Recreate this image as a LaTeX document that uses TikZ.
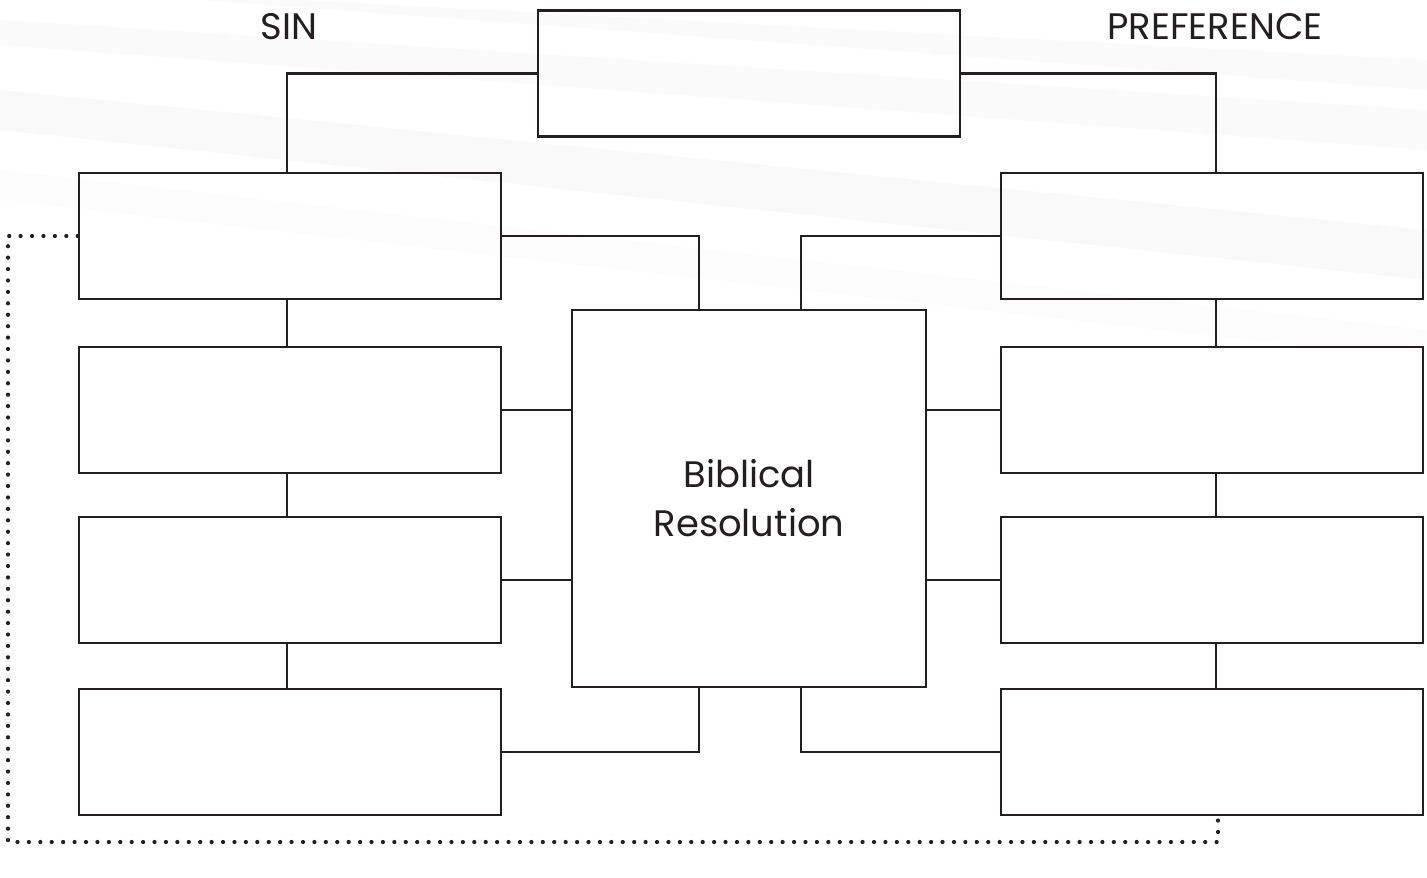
\documentclass[tikz,border=0pt]{standalone}
\usepackage{fontspec}
\setmainfont{Poppins}
\usepackage{tikz}
\usetikzlibrary{positioning}
\definecolor{ink}{HTML}{231F20}

\begin{document}
\begin{tikzpicture}[x=0.02cm, y=-0.02cm, every node/.style={font=\fontsize{21}{28}\selectfont, text=ink},
  box/.style={draw=ink, line width=1.5pt, rectangle, minimum width=8.44cm, minimum height=2.52cm, inner sep=0pt},
  link/.style={draw=ink, line width=1.5pt},
  trail/.style={draw=ink, line width=2.4pt, line cap=round, dash pattern=on 0pt off 6.5pt}]
\useasboundingbox (0,0) rectangle (1427,877);
\fill[white] (0,0) rectangle (1427,877);
% faint streaks of the backdrop
\fill[black!3, opacity=0.6] (0,20) -- (1427,110) -- (1427,150) -- (0,45) -- cycle;
\fill[black!4, opacity=0.5] (0,90) -- (1427,230) -- (1427,280) -- (0,130) -- cycle;
\fill[black!3, opacity=0.5] (300,0) -- (1427,60) -- (1427,90) -- (200,0) -- cycle;
\fill[black!2, opacity=0.6] (0,170) -- (1427,330) -- (1427,360) -- (0,200) -- cycle;

\node[box] (top) at (749,73.5) {};
\node[box] (l0) at (290,236) {};
\node[box] (r0) at (1212,236) {};
\node[box, fill=white] (l1) at (290,410) {};
\node[box, fill=white] (l2) at (290,580) {};
\node[box, fill=white] (l3) at (290,752) {};
\node[box, fill=white] (r1) at (1212,410) {};
\node[box, fill=white] (r2) at (1212,580) {};
\node[box, fill=white] (r3) at (1212,752) {};
\node[box, fill=white, minimum width=7.08cm, minimum height=7.54cm, align=center] (mid) at (749,498.5) {Biblical\\Resolution};
\node (sin) at (289,27) {SIN};
\node (pref) at (1215,27) {PREFERENCE};

\draw[link] (top.west) -| ([xshift=-0.06cm]l0.north);
\draw[link] (top.east) -| ([xshift=0.08cm]r0.north);
\draw[link] (l0.east) -| ([xshift=-1cm]mid.north);
\draw[link] (r0.west) -| ([xshift=1.04cm]mid.north);
\draw[link] ([xshift=-0.06cm]l0.south) -- ([xshift=-0.06cm]l1.north);
\draw[link] ([xshift=-0.06cm]l1.south) -- ([xshift=-0.06cm]l2.north);
\draw[link] ([xshift=-0.06cm]l2.south) -- ([xshift=-0.06cm]l3.north);
\draw[link] ([xshift=0.08cm]r0.south) -- ([xshift=0.08cm]r1.north);
\draw[link] ([xshift=0.08cm]r1.south) -- ([xshift=0.08cm]r2.north);
\draw[link] ([xshift=0.08cm]r2.south) -- ([xshift=0.08cm]r3.north);
\draw[link] (l1.east) -- (l1.east -| mid.west);
\draw[link] (l2.east) -- (l2.east -| mid.west);
\draw[link] (r1.west) -- (r1.west -| mid.east);
\draw[link] (r2.west) -- (r2.west -| mid.east);
\draw[link] (l3.east) -| ([xshift=-1cm]mid.south);
\draw[link] (r3.west) -| ([xshift=1.04cm]mid.south);

\coordinate (dotbase) at (8,842);
\draw[trail] (l0.west) -| (dotbase) -| ([xshift=0.12cm]r3.south);
\end{tikzpicture}
\end{document}
